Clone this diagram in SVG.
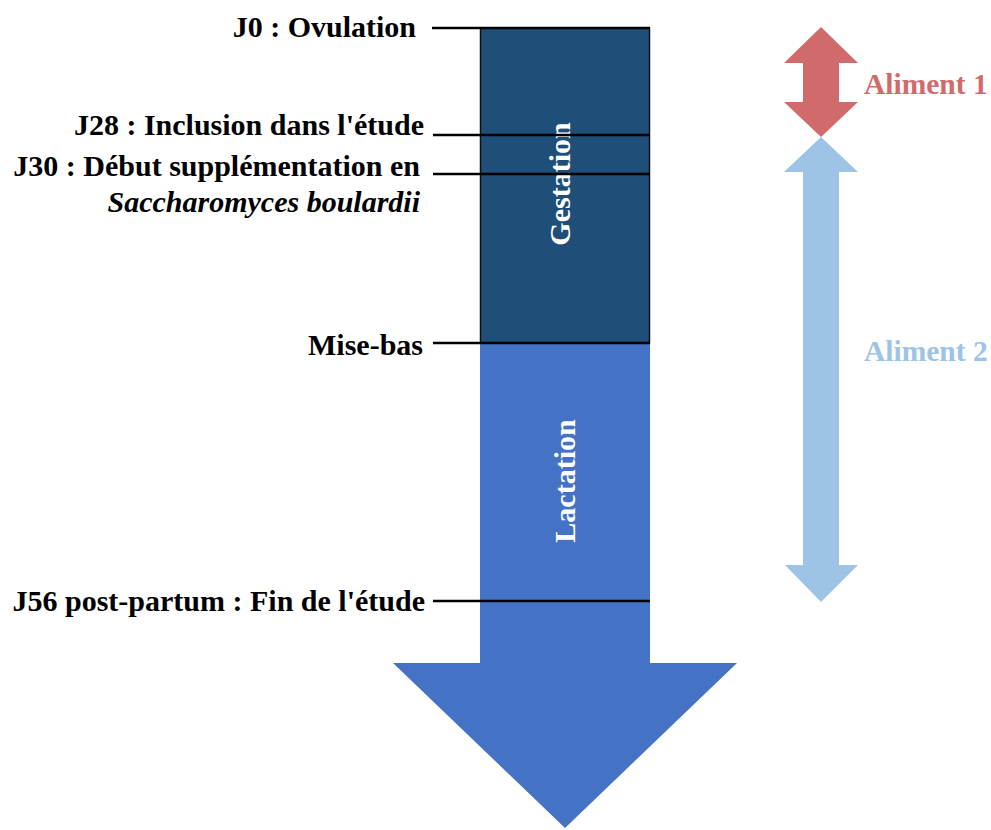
<svg xmlns="http://www.w3.org/2000/svg" width="991" height="830" viewBox="0 0 991 830">
<style>
.lbl{font-family:"Liberation Serif","Times New Roman",serif;font-weight:bold;font-size:30px;fill:#000;text-anchor:end}
.phase{font-family:"Liberation Serif","Times New Roman",serif;font-weight:bold;font-size:30px;fill:#fff;text-anchor:middle}
.tick{stroke:#000;stroke-width:2.5;fill:none}
.alim{font-family:"Liberation Serif","Times New Roman",serif;font-weight:bold;font-size:29.5px}
</style>
<rect width="991" height="830" fill="#fff"/>
<g id="lactation">
<polygon points="480,343 650,343 650,663 737,663 565,828 393,663 480,663" fill="#4472C4"/>
<text class="phase" transform="translate(575,481) rotate(-90)">Lactation</text>
</g>
<g id="gestation">
<rect x="480.5" y="28" width="169" height="315" fill="#1F4E79" stroke="#111" stroke-width="1.5"/>
<text class="phase" transform="translate(570,184) rotate(-90)">Gestation</text>
</g>
<g id="aliment1">
<polygon points="821,27 858,63 839,63 839,102 858,102 821,137 784,102 803,102 803,63 784,63" fill="#D16B6B"/>
<text class="alim" x="864" y="94" fill="#D16B6B">Aliment 1</text>
</g>
<g id="aliment2">
<polygon points="821,137 858,172 839,172 839,565 858,565 821,602 785,565 803,565 803,172 784,172" fill="#9DC3E6"/>
<text class="alim" x="864" y="361" fill="#9DC3E6">Aliment 2</text>
</g>
<g id="connectors">
<line class="tick" x1="432" y1="28" x2="650" y2="28"/>
<line class="tick" x1="433" y1="135" x2="650" y2="135"/>
<line class="tick" x1="433" y1="174" x2="650" y2="174"/>
<line class="tick" x1="433" y1="343" x2="650" y2="343"/>
<line class="tick" x1="433" y1="601" x2="650" y2="601"/>
</g>
<g id="j0"><text class="lbl" x="416" y="37">J0 : Ovulation</text></g>
<g id="j28"><text class="lbl" x="424" y="135">J28 : Inclusion dans l'étude</text></g>
<g id="j30">
<text class="lbl" x="420" y="176">J30 : Début supplémentation en</text>
<text class="lbl" x="420" y="212" font-style="italic">Saccharomyces boulardii</text>
</g>
<g id="misebas"><text class="lbl" x="423" y="355">Mise-bas</text></g>
<g id="j56"><text class="lbl" x="425" y="611">J56 post-partum : Fin de l'étude</text></g>
</svg>
